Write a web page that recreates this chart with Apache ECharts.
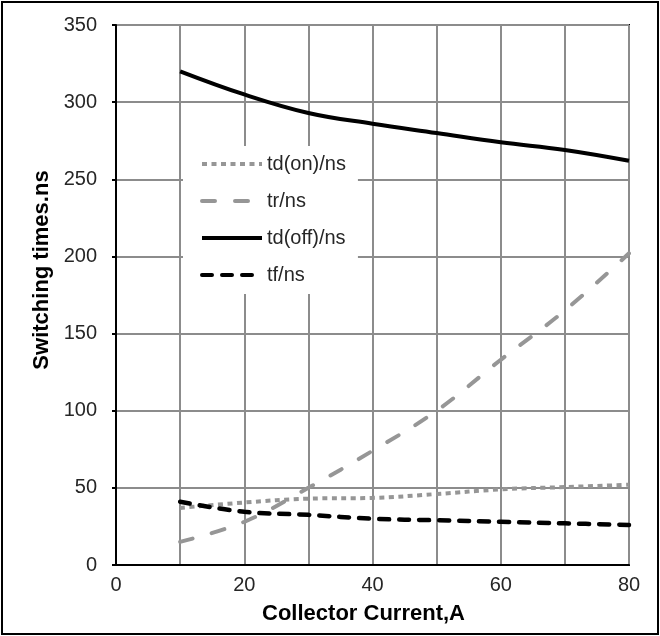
<!DOCTYPE html>
<html>
<head>
<meta charset="utf-8">
<script src="https://cdn.jsdelivr.net/npm/echarts@6/dist/echarts.min.js"></script>
<style>
html,body{margin:0;padding:0;background:#fff;}
#chart{width:660px;height:636px;}
</style>
</head>
<body>
<div id="chart"></div>
<script>
var xValues = [10, 20, 30, 40, 50, 60, 70, 80];
var tdOn  = [37, 40.5, 43, 43.5, 46, 49, 50.5, 52];
var tr    = [15, 28, 50, 74, 100, 133, 165, 202];
var tdOff = [320, 305, 293, 286, 280, 274, 269, 262];
var tf    = [41, 34.5, 32.5, 30, 29, 28, 27, 26];
var seriesNames = ['td(on)/ns', 'tr/ns', 'td(off)/ns', 'tf/ns'];
var xTitle = 'Collector Current,A';
var yTitle = 'Switching times.ns';

function pairs(ys){ return xValues.map(function(x,i){ return [x, ys[i]]; }); }

var FONT = '"Liberation Sans", Arial, sans-serif';
var GRAY = '#969696';

var chart = echarts.init(document.getElementById('chart'), null, {renderer:'canvas'});
chart.setOption({
  animation: false,
  backgroundColor: '#fff',
  textStyle: { fontFamily: FONT },
  graphic: [{
    type: 'rect', z: 100, silent: true,
    shape: { x: 2, y: 2, width: 656, height: 632 },
    style: { fill: 'none', stroke: '#000', lineWidth: 2 }
  }],
  grid: { left: 116, right: 31, top: 25, bottom: 71, show: true, borderColor: '#000', borderWidth: 2, backgroundColor: 'transparent' },
  legend: {
    orient: 'vertical', left: 183, top: 146,
    backgroundColor: '#fff',
    padding: [8, 12, 9, 17],
    itemWidth: 60, itemHeight: 14, itemGap: 17,
    lineStyle: { width: 4 },
    itemStyle: { opacity: 0, borderWidth: 0 },
    textStyle: { fontFamily: FONT, fontSize: 20, lineHeight: 20, color: '#262626' },
    data: seriesNames
  },
  xAxis: {
    type: 'value', min: 0, max: 80, interval: 10,
    name: xTitle, nameLocation: 'middle', nameGap: 38,
    nameTextStyle: { fontFamily: FONT, fontSize: 22, fontWeight: 'bold', color: '#000', padding: [0, 18, 0, 0] },
    axisLine: { show: true, lineStyle: { color: '#000', width: 2 } },
    axisTick: { show: false },
    axisLabel: { fontFamily: FONT, fontSize: 20, color: '#262626', margin: 10,
      formatter: function(v){ return v % 20 === 0 ? String(v) : ''; } },
    splitLine: { show: true, lineStyle: { color: '#8c8c8c', width: 2 } }
  },
  yAxis: {
    type: 'value', min: 0, max: 350, interval: 50,
    name: yTitle, nameLocation: 'middle', nameGap: 62, nameRotate: 90,
    nameTextStyle: { fontFamily: FONT, fontSize: 22, fontWeight: 'bold', color: '#000', padding: [0, 0, 0, 50] },
    axisLine: { show: true, lineStyle: { color: '#000', width: 2 } },
    axisTick: { show: true, length: 4, lineStyle: { color: '#000', width: 2 } },
    axisLabel: { fontFamily: FONT, fontSize: 20, color: '#262626', margin: 19 },
    splitLine: { show: true, lineStyle: { color: '#8c8c8c', width: 2 } }
  },
  series: [
    { name: seriesNames[0], type: 'line', data: pairs(tdOn), smooth: 0.4, symbol: 'none', z: 3,
      lineStyle: { color: GRAY, width: 4, type: [5, 4.5], cap: 'butt' }, itemStyle: { color: GRAY } },
    { name: seriesNames[1], type: 'line', data: pairs(tr), smooth: 0.4, symbol: 'none', z: 3,
      lineStyle: { color: GRAY, width: 4, type: [13, 20], cap: 'round' }, itemStyle: { color: GRAY } },
    { name: seriesNames[2], type: 'line', data: pairs(tdOff), smooth: 0.4, symbol: 'none', z: 3,
      lineStyle: { color: '#000', width: 4, type: 'solid' }, itemStyle: { color: '#000' } },
    { name: seriesNames[3], type: 'line', data: pairs(tf), smooth: 0.4, symbol: 'none', z: 3,
      lineStyle: { color: '#000', width: 4.5, type: [10, 10], cap: 'round' }, itemStyle: { color: '#000' } }
  ]
});
</script>
</body>
</html>
